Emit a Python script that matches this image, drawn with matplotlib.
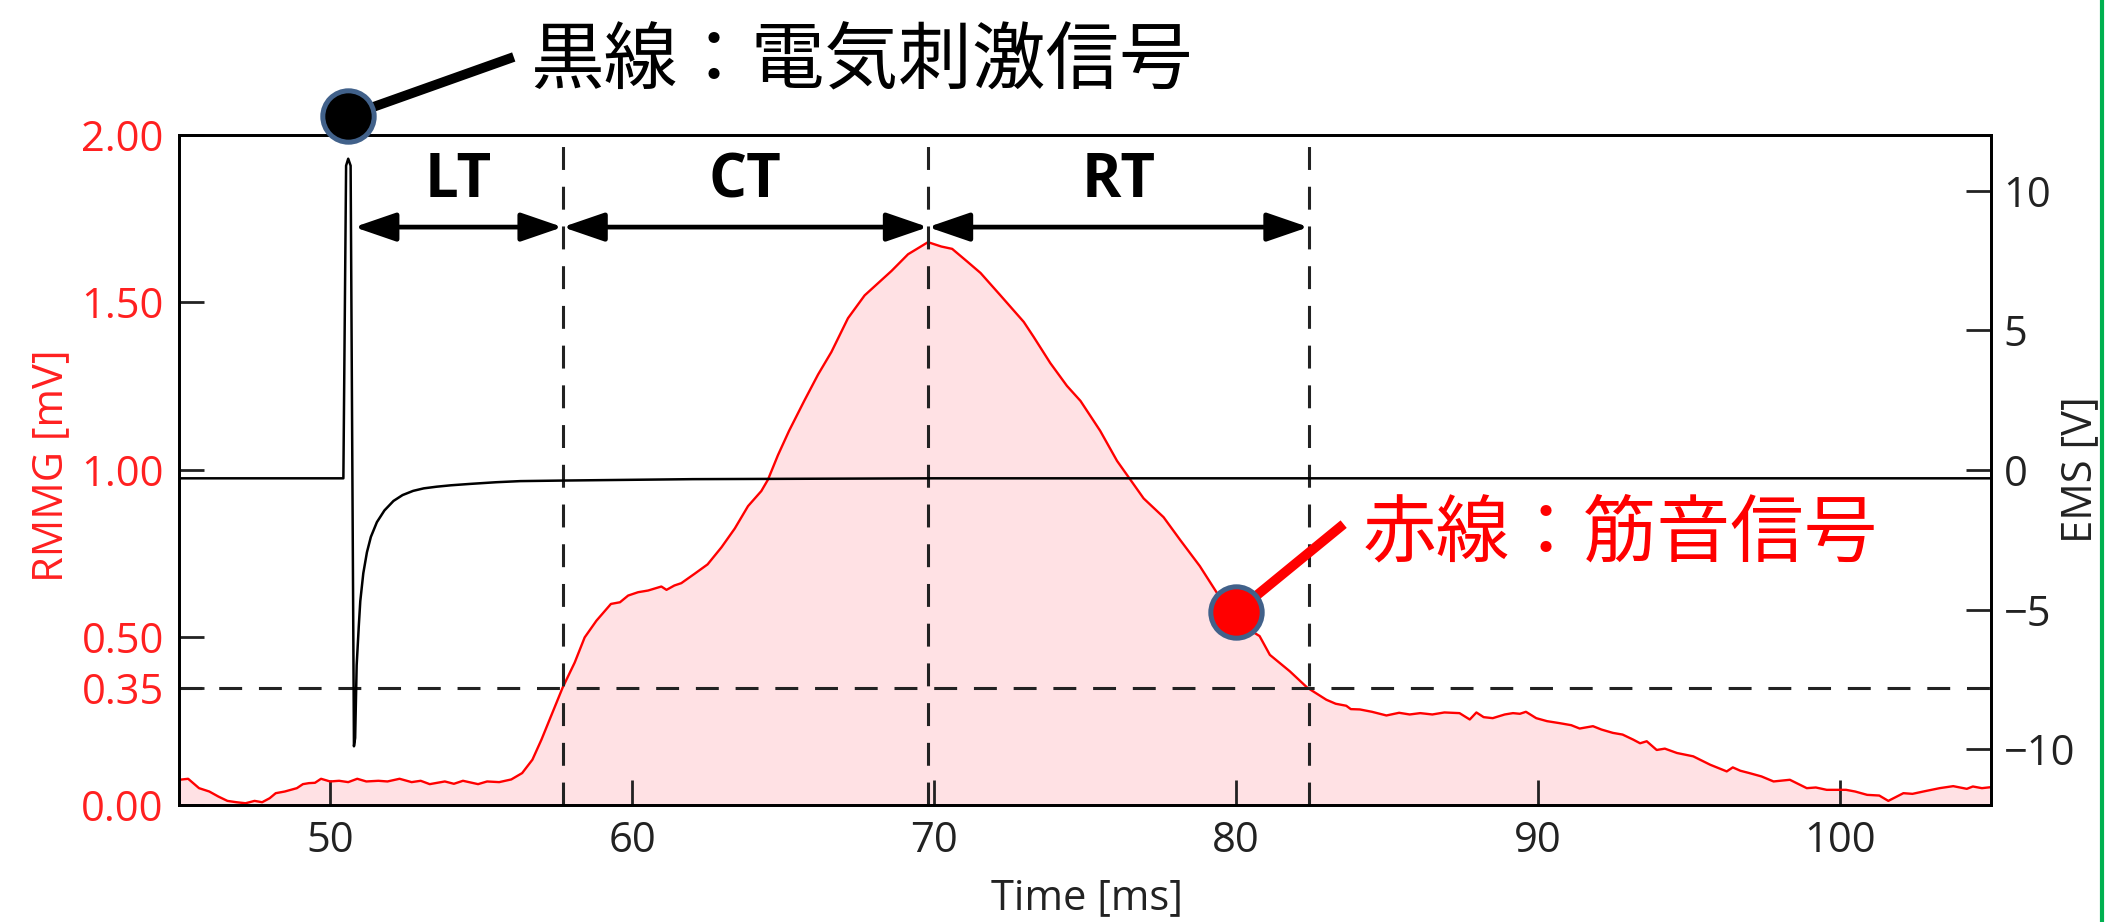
import matplotlib.pyplot as plt
from matplotlib.lines import Line2D

plt.rcParams['font.family'] = ['Open Sans', 'DejaVu Sans']

# ------------------------- data ----------------------------------------------------

# RMMG (muscle sound), mV
time_mmg = [45.0, 45.3, 45.66, 46.0, 46.3, 46.6, 46.9, 47.2, 47.5, 47.75, 48.0, 48.2, 48.5, 48.9,
            49.1, 49.3, 49.5, 49.7, 50.0, 50.3, 50.6, 50.9, 51.2, 51.6, 51.9, 52.3, 52.7, 53.0,
            53.3, 53.8, 54.1, 54.4, 54.7, 54.9, 55.2, 55.6, 56.0, 56.36, 56.7, 57.0, 57.33, 57.7,
            58.1, 58.43, 58.82, 59.3, 59.6, 59.87, 60.2, 60.53, 60.97, 61.14, 61.4, 61.63, 62.07,
            62.5, 62.96, 63.4, 63.84, 64.28, 64.5, 64.83, 65.2, 65.7, 66.16, 66.6, 67.15, 67.7,
            68.04, 68.59, 69.14, 69.8, 70.24, 70.6, 71.1, 71.54, 72.2, 72.97, 73.3, 73.85, 74.4,
            74.85, 75.5, 76.06, 76.5, 76.94, 77.6, 78.15, 78.8, 79.36, 80.46, 80.78, 81.12, 81.5,
            81.78, 82.36, 82.99, 83.3, 83.65, 83.8, 84.1, 84.5, 84.98, 85.4, 85.75, 86.1, 86.5,
            86.9, 87.4, 87.74, 87.96, 88.2, 88.5, 88.9, 89.17, 89.4, 89.6, 89.94, 90.3, 90.72,
            91.1, 91.38, 91.82, 92.1, 92.48, 92.8, 93.15, 93.38, 93.6, 93.93, 94.2, 94.6, 95.14,
            95.7, 96.25, 96.45, 96.7, 97.0, 97.4, 97.8, 98.34, 98.9, 99.2, 99.56, 100.2, 100.5,
            100.9, 101.3, 101.6, 102.1, 102.4, 102.76, 103.3, 103.75, 104.2, 104.4, 104.7, 105.0]
mmg = [0.075, 0.078, 0.05, 0.04, 0.025, 0.012, 0.008, 0.005, 0.012, 0.008, 0.02, 0.035, 0.04, 0.05,
       0.062, 0.065, 0.066, 0.078, 0.07, 0.072, 0.068, 0.078, 0.07, 0.072, 0.07, 0.078, 0.068, 0.072,
       0.062, 0.07, 0.063, 0.072, 0.066, 0.062, 0.07, 0.068, 0.076, 0.095, 0.135, 0.195, 0.268, 0.35,
       0.425, 0.5, 0.55, 0.6, 0.605, 0.625, 0.635, 0.64, 0.652, 0.642, 0.655, 0.662, 0.69,
       0.718, 0.769, 0.825, 0.892, 0.937, 0.971, 1.044, 1.117, 1.206, 1.285, 1.352, 1.453, 1.521,
       1.549, 1.594, 1.644, 1.68, 1.667, 1.66, 1.622, 1.588, 1.521, 1.442, 1.397, 1.319, 1.251,
       1.206, 1.117, 1.027, 0.971, 0.915, 0.859, 0.791, 0.713, 0.634, 0.522, 0.504, 0.448, 0.42,
       0.399, 0.35, 0.314, 0.302, 0.296, 0.286, 0.285, 0.278, 0.267, 0.275, 0.27, 0.274, 0.27,
       0.276, 0.274, 0.255, 0.276, 0.262, 0.259, 0.27, 0.274, 0.272, 0.278, 0.259, 0.25, 0.244,
       0.238, 0.228, 0.235, 0.225, 0.215, 0.21, 0.195, 0.184, 0.19, 0.164, 0.168, 0.155, 0.145,
       0.12, 0.1, 0.112, 0.102, 0.095, 0.085, 0.07, 0.075, 0.05, 0.052, 0.045, 0.045, 0.04,
       0.03, 0.028, 0.012, 0.035, 0.033, 0.04, 0.05, 0.056, 0.048, 0.055, 0.05, 0.053]

# EMS (electrical stimulation), V
time_ems = [45.0, 50.44, 50.53, 50.6, 50.68, 50.79, 50.83, 50.88, 50.95, 51.0, 51.1, 51.22, 51.35,
            51.55, 51.8, 52.1, 52.4, 52.75, 53.1, 53.53, 54.0, 54.64, 55.5, 56.3, 57.7, 62.0, 70.0, 105.0]
ems = [-0.3, -0.3, 10.9, 11.15, 10.9, -9.9, -9.6, -7.0, -5.6, -4.7, -3.7, -2.95, -2.4,
       -1.87, -1.45, -1.11, -0.9, -0.75, -0.66, -0.6, -0.55, -0.5, -0.44, -0.4, -0.38, -0.33, -0.3, -0.3]

# LT / CT / RT boundaries (ms) and threshold (mV)
lt_start = 50.8
ct_start = 57.7
peak_time = 69.8
rt_end = 82.4
threshold = 0.35

left_ticks = [0.0, 0.35, 0.5, 1.0, 1.5, 2.0]
right_ticks = [-10, -5, 0, 5, 10]
x_ticks = [50, 60, 70, 80, 90, 100]

# ------------------------- plotting --------------------------------

fig = plt.figure(figsize=(21.12, 9.22), dpi=100)
ax = fig.add_axes([0.0848, 0.127, 0.8579, 0.7266])

ax.fill_between(time_mmg, mmg, 0, color='#ffe1e4', lw=0)
ax.plot(time_mmg, mmg, color='#ff0000', lw=1.7)
ax.set_xlim(45, 105)
ax.set_ylim(0, 2)
ax.set_xticks(x_ticks)
ax.set_yticks(left_ticks)
ax.set_yticklabels(['%.2f' % v for v in left_ticks])
ax.tick_params(direction='in', length=18, width=2, labelsize=30, colors='#222222')
ax.tick_params(axis='y', labelcolor='#ff2020', pad=11)
ax.tick_params(axis='x', pad=11)
for s in ax.spines.values():
    s.set_linewidth(2)

ax.set_xlabel('Time [ms]', fontsize=30, color='#222222', va='center')
ax.xaxis.set_label_coords(0.501, -0.139)
ax.set_ylabel('RMMG [mV]', fontsize=30, color='#ff2020', va='center')
ax.yaxis.set_label_coords(-0.0706, 0.507)

# dashed guide lines
dash = (0, (7.5, 5.5))
for t in [ct_start, peak_time, rt_end]:
    ax.axvline(t, color='#222222', ls=dash, lw=2.2)
ax.axhline(threshold, color='#222222', ls=dash, lw=2.2)

# interval arrows and labels
arrow_y = 1.725
for a, b, name in [(lt_start, ct_start, 'LT'), (ct_start, peak_time, 'CT'), (peak_time, rt_end, 'RT')]:
    ax.annotate('', xy=(b, arrow_y), xytext=(a, arrow_y),
                arrowprops=dict(arrowstyle='<|-|>,head_length=1.6,head_width=0.55', mutation_scale=16,
                                lw=3.4, color='black', shrinkA=0, shrinkB=0))
    ax.text((a + b) / 2, 1.86, name, ha='center', va='center', fontsize=43, fontweight='bold')

# EMS on right axis
ax2 = ax.twinx()
ax2.plot(time_ems, ems, color='black', lw=1.8)
ax2.set_ylim(-12, 12)
ax2.set_yticks(right_ticks)
ax2.tick_params(direction='in', length=18, width=2, labelsize=30, colors='#222222', pad=9)
for s in ax2.spines.values():
    s.set_linewidth(2)
ax2.set_ylabel('EMS [V]', fontsize=30, color='#222222', va='center')
ax2.yaxis.set_label_coords(1.049, 0.5)

# callouts
cjk = ['Noto Sans CJK JP', 'DejaVu Sans']
ax2.plot([50.6, 55.93], [2.057, 2.228], color='black', lw=7, clip_on=False, transform=ax.transData, zorder=8)
ax2.plot([50.6], [2.057], 'o', ms=37, mfc='black', mec='#41618a', mew=3.6, clip_on=False,
         transform=ax.transData, zorder=9)
ax2.text(56.62, 2.217, '黒線：電気刺激信号', family=cjk, fontsize=53, color='black',
         ha='left', va='center', transform=ax.transData)

ax2.plot([80.0, 83.44], [0.575, 0.829], color='#ff0000', lw=7, clip_on=False, transform=ax.transData, zorder=8)
ax2.plot([80.0], [0.575], 'o', ms=37, mfc='#ff0000', mec='#41618a', mew=3.6, clip_on=False,
         transform=ax.transData, zorder=9)
ax2.text(84.2, 0.808, '赤線：筋音信号', family=cjk, fontsize=53, color='#ff0000',
         ha='left', va='center', transform=ax.transData)
ax2.set_ylim(-12, 12)
ax2.set_xlim(45, 105)

# green border at the right edge
fig.add_artist(Line2D([0.9955, 0.9955], [0, 1], color='#00b050', lw=3))

fig.savefig('out.png', dpi=100)
